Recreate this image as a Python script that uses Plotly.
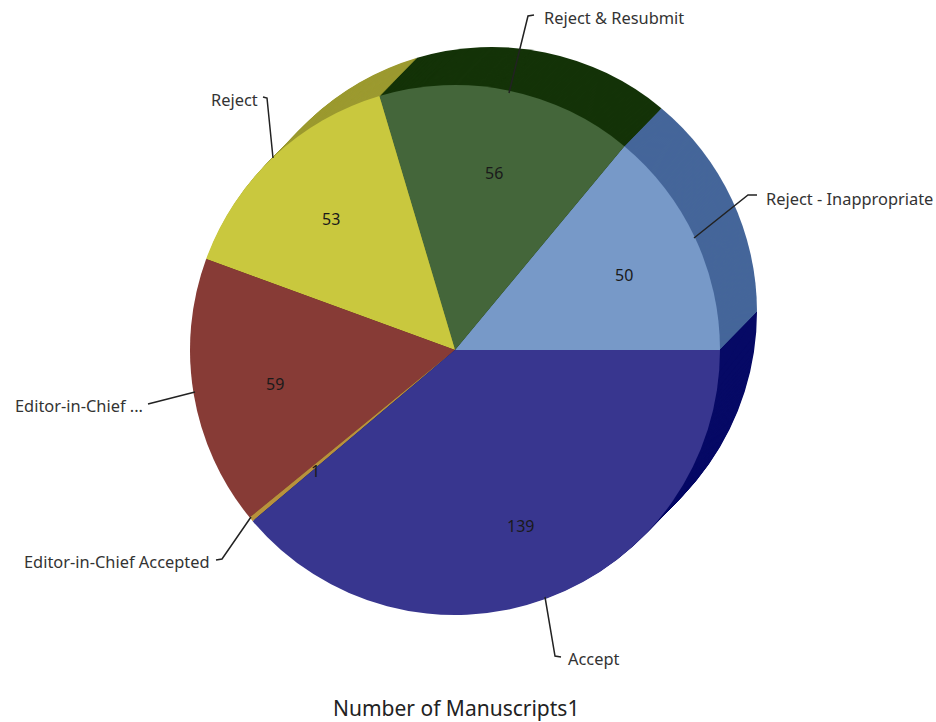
import math
import plotly.graph_objects as go

categories = ["Reject - Inappropriate", "Reject & Resubmit", "Reject",
              "Editor-in-Chief Rejected", "Editor-in-Chief Accepted", "Accept"]
values = [50, 56, 53, 59, 1, 139]
front_colors = ["#7799C8", "#44663A", "#C9C83E", "#873B36", "#B8923C", "#38368F"]
back_colors = ["#45669A", "#143308", "#9C9A30", "#5E2420", "#7F6420", "#070A66"]
chart_title = "Number of Manuscripts1"

W, H = 936, 722
R = 265
FRONT = (455, 350)
BACK = (492, 312)
DEPTH_LAYERS = 38


def px(x):
    return x / W


def py(y):
    return 1 - y / H


def domain(cx, cy):
    return dict(x=[px(cx - R), px(cx + R)], y=[py(cy + R), py(cy - R)])


FONT = "Noto Sans"
total = sum(values)
# a counterclockwise plotly pie ends its first slice at `rotation`
rotation = 90 - 360 * values[0] / total

fig = go.Figure()
# extrusion: the same pie repeated from the back position towards the front
for i in range(DEPTH_LAYERS):
    t = i / DEPTH_LAYERS
    cx = BACK[0] + (FRONT[0] - BACK[0]) * t
    cy = BACK[1] + (FRONT[1] - BACK[1]) * t
    fig.add_trace(go.Pie(
        labels=categories, values=values, sort=False, direction="counterclockwise",
        rotation=rotation, domain=domain(cx, cy), textinfo="none", hoverinfo="skip",
        marker=dict(colors=back_colors, line=dict(width=0)), showlegend=False,
    ))
fig.add_trace(go.Pie(
    labels=categories, values=values, sort=False, direction="counterclockwise",
    rotation=rotation, domain=domain(*FRONT), textinfo="none", hoverinfo="label+value",
    marker=dict(colors=front_colors, line=dict(width=0)), showlegend=False,
))

annotations = []
running = 0
for v in values:
    mid = (running + v / 2) / total * 2 * math.pi
    running += v
    annotations.append(dict(
        x=px(FRONT[0] + 2 + 0.695 * R * math.cos(mid)),
        y=py(FRONT[1] + 3.2 - 0.695 * R * math.sin(mid)),
        text=str(v), showarrow=False, xanchor="center", yanchor="middle",
        font=dict(family=FONT, size=16, color="#1a1a1a"),
    ))

outer_labels = [
    ("Reject - Inappropriate", 764, 199, "left"),
    ("Reject & Resubmit", 542, 18, "left"),
    ("Reject", 260, 99, "right"),
    ("Editor-in-Chief ...", 145, 406, "right"),
    ("Editor-in-Chief Accepted", 212, 561, "right"),
    ("Accept", 566, 658, "left"),
]
for text, x, y, anchor in outer_labels:
    annotations.append(dict(
        x=px(x), y=py(y), text=text, showarrow=False, xanchor=anchor, yanchor="middle",
        font=dict(family=FONT, size=16.4, color="#333333"),
    ))
annotations.append(dict(
    x=px(456), y=py(707.5), text=chart_title, showarrow=False, xanchor="center", yanchor="middle",
    font=dict(family=FONT, size=21, color="#222222"),
))

leaders = [
    [(694, 238), (748, 195), (757, 195)],
    [(509, 93), (528, 16), (534, 15)],
    [(273, 158), (267, 98), (263, 97)],
    [(195, 392), (148, 404)],
    [(251, 517), (222, 559), (216, 560)],
    [(545, 597), (555, 656), (561, 657)],
]
shapes = []
for pts in leaders:
    path = "M " + " L ".join(f"{px(x):.5f},{py(y):.5f}" for x, y in pts)
    shapes.append(dict(type="path", path=path, xref="paper", yref="paper",
                       line=dict(color="#222222", width=1.5)))

fig.update_layout(
    width=W, height=H, margin=dict(l=0, r=0, t=0, b=0),
    paper_bgcolor="white", plot_bgcolor="white",
    annotations=annotations, shapes=shapes, showlegend=False,
)
fig.write_html("out.html", config={"displayModeBar": False},
               post_script="document.body.style.margin='0';document.documentElement.style.overflow='hidden';")
